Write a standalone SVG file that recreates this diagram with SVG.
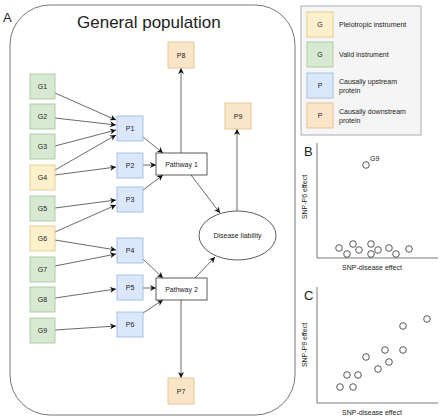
<svg xmlns="http://www.w3.org/2000/svg" width="440" height="419" viewBox="0 0 440 419">
<defs>
<marker id="ah" viewBox="0 0 10 10" refX="10" refY="5" markerWidth="6" markerHeight="6" orient="auto" markerUnits="userSpaceOnUse">
<path d="M0,0 L10,5 L0,10 L3,5 z" fill="#111"/>
</marker>
<style>
text{font-family:"Liberation Sans",Arial,sans-serif;fill:#222}
.g{fill:#d7e8d3;stroke:#a9c99c;stroke-width:0.9}
.y{fill:#fdf1cd;stroke:#e0cc88;stroke-width:0.9}
.b{fill:#dbe7fa;stroke:#a3bbdf;stroke-width:0.9}
.o{fill:#fae5c8;stroke:#e3c48c;stroke-width:0.9}
.w{fill:#fff;stroke:#333;stroke-width:0.8}
.t{font-size:7px;text-anchor:middle}
.c line{stroke:#444;stroke-width:0.8;marker-end:url(#ah)}
.pt{fill:#fff;stroke:#444;stroke-width:0.9}
.ax{stroke:#555;stroke-width:0.8;fill:none}
</style>
</defs>
<rect width="440" height="419" fill="#fff"/>
<rect x="10" y="5" width="285" height="410" rx="40" ry="40" fill="#fff" stroke="#666" stroke-width="0.9"/>
<text x="3" y="22" font-size="13">A</text>
<text x="77" y="28" font-size="17">General population</text>

<g class="c">
<line x1="55" y1="93" x2="116" y2="120"/>
<line x1="55" y1="118" x2="116" y2="125"/>
<line x1="55" y1="146" x2="116" y2="130"/>
<line x1="55" y1="170" x2="116" y2="135"/>
<line x1="55" y1="175" x2="116" y2="167"/>
<line x1="55" y1="208" x2="116" y2="200"/>
<line x1="55" y1="232" x2="116" y2="205"/>
<line x1="55" y1="240" x2="116" y2="250"/>
<line x1="55" y1="266" x2="116" y2="254"/>
<line x1="55" y1="298" x2="116" y2="289"/>
<line x1="55" y1="330" x2="116" y2="326"/>
<line x1="143" y1="137" x2="163" y2="153"/>
<line x1="143" y1="165" x2="156" y2="165"/>
<line x1="143" y1="190" x2="163" y2="175"/>
<line x1="143" y1="259" x2="163" y2="278"/>
<line x1="143" y1="288" x2="156" y2="288"/>
<line x1="143" y1="313" x2="163" y2="300"/>
<line x1="181" y1="153" x2="181" y2="68"/>
<line x1="181" y1="300" x2="181" y2="378"/>
<line x1="191" y1="175" x2="220" y2="213"/>
<line x1="195" y1="278" x2="215" y2="257"/>
<line x1="237" y1="211" x2="237" y2="129"/>
</g>

<g id="G1"><rect class="g" x="30" y="74" width="25" height="25"/><text class="t" x="42.5" y="89">G1</text></g>
<g id="G2"><rect class="g" x="30" y="104" width="25" height="25"/><text class="t" x="42.5" y="119">G2</text></g>
<g id="G3"><rect class="g" x="30" y="134" width="25" height="25"/><text class="t" x="42.5" y="149">G3</text></g>
<g id="G4"><rect class="y" x="30" y="165" width="25" height="25"/><text class="t" x="42.5" y="180">G4</text></g>
<g id="G5"><rect class="g" x="30" y="196" width="25" height="25"/><text class="t" x="42.5" y="211">G5</text></g>
<g id="G6"><rect class="y" x="30" y="226" width="25" height="25"/><text class="t" x="42.5" y="241">G6</text></g>
<g id="G7"><rect class="g" x="30" y="257" width="25" height="25"/><text class="t" x="42.5" y="272">G7</text></g>
<g id="G8"><rect class="g" x="30" y="287" width="25" height="25"/><text class="t" x="42.5" y="302">G8</text></g>
<g id="G9"><rect class="g" x="30" y="318" width="25" height="25"/><text class="t" x="42.5" y="333">G9</text></g>

<g id="P1"><rect class="b" x="117" y="116" width="26" height="25"/><text class="t" x="130" y="131">P1</text></g>
<g id="P2"><rect class="b" x="117" y="153" width="26" height="25"/><text class="t" x="130" y="168">P2</text></g>
<g id="P3"><rect class="b" x="117" y="187" width="26" height="25"/><text class="t" x="130" y="202">P3</text></g>
<g id="P4"><rect class="b" x="117" y="238" width="26" height="25"/><text class="t" x="130" y="253">P4</text></g>
<g id="P5"><rect class="b" x="117" y="275" width="26" height="25"/><text class="t" x="130" y="290">P5</text></g>
<g id="P6"><rect class="b" x="117" y="312" width="26" height="25"/><text class="t" x="130" y="327">P6</text></g>

<g id="P8"><rect class="o" x="168" y="42" width="26" height="26"/><text class="t" x="181" y="57.5">P8</text></g>
<g id="P9"><rect class="o" x="225" y="103" width="26" height="26"/><text class="t" x="238" y="118.5">P9</text></g>
<g id="P7"><rect class="o" x="168" y="378" width="26" height="26"/><text class="t" x="181" y="393.5">P7</text></g>

<g id="Pathway1"><rect class="w" x="156" y="153" width="51" height="22"/><text class="t" x="181.5" y="166.5" font-size="7.5">Pathway 1</text></g>
<g id="Pathway2"><rect class="w" x="156" y="278" width="51" height="22"/><text class="t" x="181.5" y="291.5" font-size="7.5">Pathway 2</text></g>
<g id="Disease"><ellipse class="w" cx="237.5" cy="235.5" rx="38.5" ry="24.5"/><text class="t" x="237.5" y="238" font-size="7.5">Disease liability</text></g>

<g id="legend">
<rect x="301" y="6" width="120" height="129" fill="#f5f5f5" stroke="#999" stroke-width="0.8"/>
<rect class="y" x="307" y="12" width="26" height="25"/><text class="t" x="320" y="27">G</text>
<text x="339" y="27" font-size="7">Pleiotropic instrument</text>
<rect class="g" x="307" y="42" width="26" height="25"/><text class="t" x="320" y="57">G</text>
<text x="339" y="57" font-size="7">Valid instrument</text>
<rect class="b" x="307" y="73" width="26" height="25"/><text class="t" x="320" y="88">P</text>
<text x="339" y="84" font-size="7">Causally upstream</text>
<text x="339" y="93" font-size="7">protein</text>
<rect class="o" x="307" y="103" width="26" height="25"/><text class="t" x="320" y="118">P</text>
<text x="339" y="114" font-size="7">Causally downstream</text>
<text x="339" y="123" font-size="7">protein</text>
</g>

<g id="plotB">
<text x="304" y="156" font-size="13">B</text>
<path class="ax" d="M317,143 V258 H438"/>
<text x="372" y="270" font-size="7" text-anchor="middle">SNP-disease effect</text>
<text transform="translate(307,197) rotate(-90)" font-size="7" text-anchor="middle">SNP-P6 effect</text>
<circle class="pt" cx="366" cy="165" r="3.3"/>
<text x="370" y="161" font-size="7">G9</text>
<circle class="pt" cx="339" cy="248" r="3.3"/>
<circle class="pt" cx="347" cy="254" r="3.3"/>
<circle class="pt" cx="353" cy="244" r="3.3"/>
<circle class="pt" cx="359" cy="250" r="3.3"/>
<circle class="pt" cx="371" cy="244" r="3.3"/>
<circle class="pt" cx="371" cy="254" r="3.3"/>
<circle class="pt" cx="378" cy="250" r="3.3"/>
<circle class="pt" cx="389" cy="248" r="3.3"/>
<circle class="pt" cx="396" cy="254" r="3.3"/>
<circle class="pt" cx="409" cy="249" r="3.3"/>
</g>

<g id="plotC">
<text x="304" y="300" font-size="13">C</text>
<path class="ax" d="M317,287 V403 H438"/>
<text x="372" y="415" font-size="7" text-anchor="middle">SNP-disease effect</text>
<text transform="translate(307,345) rotate(-90)" font-size="7" text-anchor="middle">SNP-P9 effect</text>
<circle class="pt" cx="427" cy="319" r="3.3"/>
<circle class="pt" cx="403" cy="326" r="3.3"/>
<circle class="pt" cx="403" cy="350" r="3.3"/>
<circle class="pt" cx="385" cy="350" r="3.3"/>
<circle class="pt" cx="366" cy="357" r="3.3"/>
<circle class="pt" cx="389" cy="362" r="3.3"/>
<circle class="pt" cx="378" cy="369" r="3.3"/>
<circle class="pt" cx="347" cy="375" r="3.3"/>
<circle class="pt" cx="358" cy="375" r="3.3"/>
<circle class="pt" cx="340" cy="387" r="3.3"/>
<circle class="pt" cx="353" cy="387" r="3.3"/>
</g>
</svg>
